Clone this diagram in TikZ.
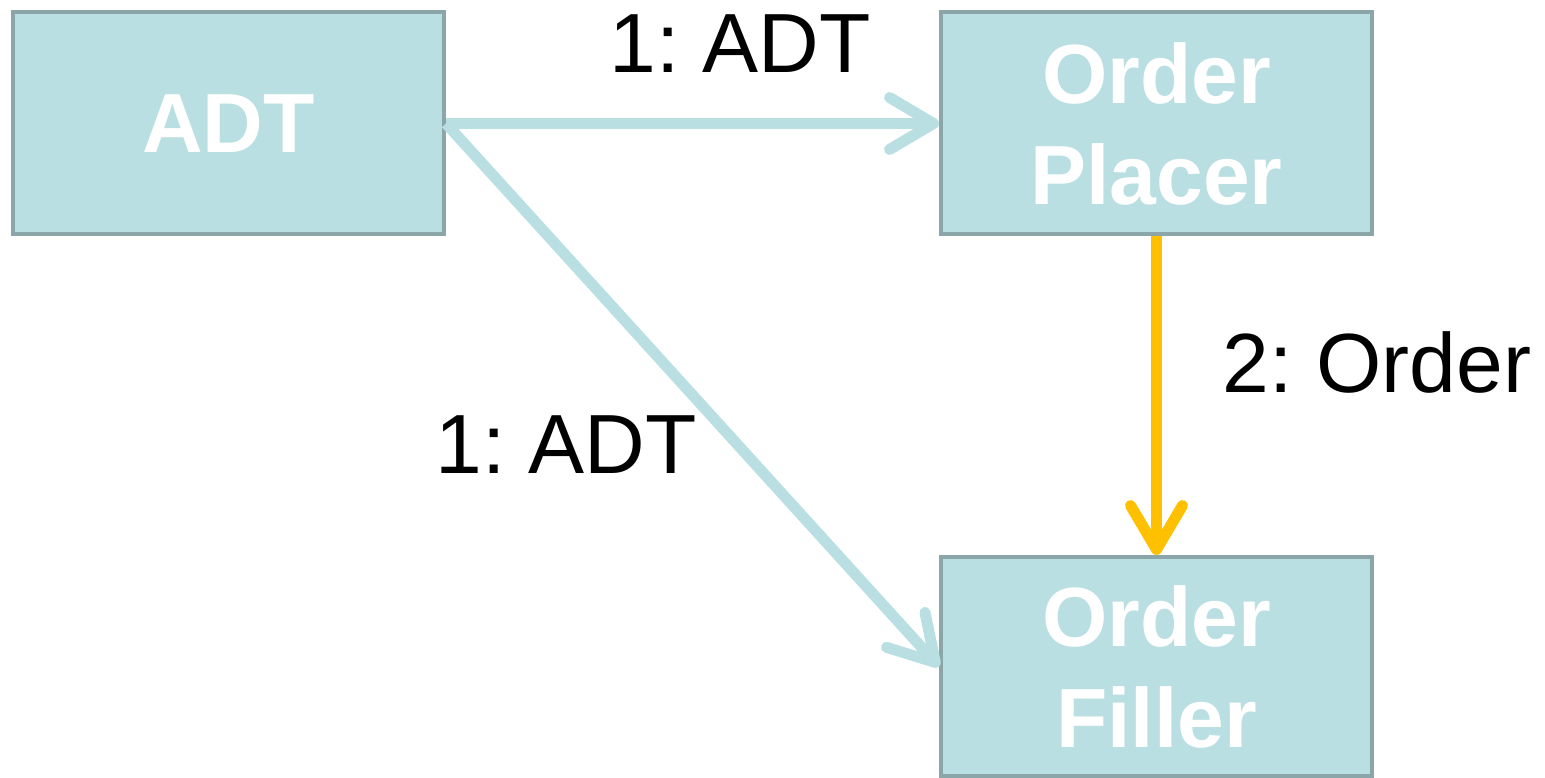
\documentclass[tikz,border=0pt]{standalone}
\usepackage{fontspec}
\setmainfont{Liberation Sans}
\usetikzlibrary{arrows.meta}
\definecolor{boxfill}{HTML}{BADFE2}
\definecolor{boxline}{HTML}{8BA6A8}
\definecolor{linkteal}{HTML}{B9DFE2}
\definecolor{linkgold}{HTML}{FFC000}
\frenchspacing
\tikzset{
  actor/.style={draw=boxline, fill=boxfill, line width=4pt, minimum width=431pt,
    minimum height=222pt, inner sep=0pt, text=white, align=center,
    font=\fontsize{84}{101}\selectfont\bfseries},
  link/.style={line width=11pt, -{Straight Barb[length=44pt, width=52pt, round]}},
  lbl/.style={font=\fontsize{84}{90}\selectfont, text=black, inner sep=0pt, anchor=base}
}
\begin{document}
\begin{tikzpicture}[x=1pt,y=-1pt]
\useasboundingbox (0,0) rectangle (1545,778);
\node[actor] (adt) at (228.5,123.5) {ADT};
\node[actor] (placer) at (1156.5,123.5) {Order\\Placer};
\node[actor, minimum height=219pt] (filler) at (1156.5,666.5) {Order\\Filler};
\draw[link, linkteal] (adt.east) -- (placer.west);
\draw[link, linkteal] (adt.east) -- (filler.west);
\draw[link, linkgold] (placer.south) -- (filler.north);
\node[lbl] (l1) at (740,73) {1: ADT};
\node[lbl] (l2) at (566,473) {1: ADT};
\node[lbl] (l3) at (1377,392) {2: Order};
\end{tikzpicture}
\end{document}
